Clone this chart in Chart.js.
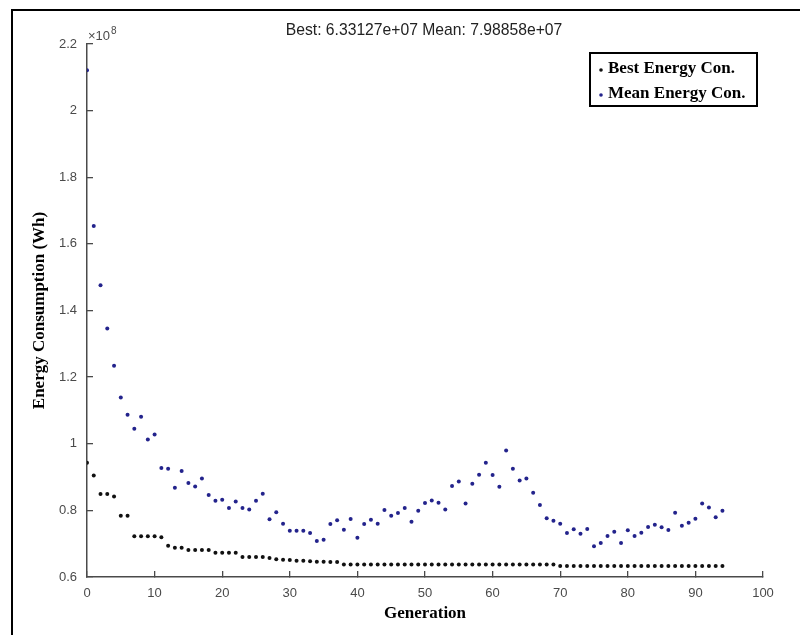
<!DOCTYPE html>
<html>
<head>
<meta charset="utf-8">
<title>Energy Consumption per Generation</title>
<script src="https://cdn.jsdelivr.net/npm/chart.js@4/dist/chart.umd.min.js"></script>
<style>
  html, body { margin: 0; padding: 0; background: #ffffff; }
  #wrap { width: 800px; height: 635px; }
</style>
</head>
<body>
<div id="wrap"><canvas id="chart" width="800" height="635"></canvas></div>
<script>
// Values are in units of 1e8 Wh (axis exponent label "×10^8").
const SCALE = 1e8;

const generations = Array.from({ length: 95 }, (_, i) => i);

const bestEnergy = [
  0.943, 0.905, 0.849, 0.849, 0.842, 0.784, 0.784, 0.722, 0.722, 0.722,
  0.722, 0.719, 0.694, 0.688, 0.688, 0.681, 0.681, 0.681, 0.681, 0.673,
  0.673, 0.673, 0.673, 0.660, 0.660, 0.660, 0.660, 0.657, 0.653, 0.652,
  0.651, 0.649, 0.649, 0.647, 0.646, 0.646, 0.645, 0.645, 0.6375, 0.6375,
  0.6375, 0.6375, 0.6375, 0.6375, 0.6375, 0.6375, 0.6375, 0.6375, 0.6375, 0.6375,
  0.6375, 0.6375, 0.6375, 0.6375, 0.6375, 0.6375, 0.6375, 0.6375, 0.6375, 0.6375,
  0.6375, 0.6375, 0.6375, 0.6375, 0.6375, 0.6375, 0.6375, 0.6375, 0.6375, 0.6375,
  0.633127, 0.633127, 0.633127, 0.633127, 0.633127, 0.633127, 0.633127, 0.633127, 0.633127, 0.633127,
  0.633127, 0.633127, 0.633127, 0.633127, 0.633127, 0.633127, 0.633127, 0.633127, 0.633127, 0.633127,
  0.633127, 0.633127, 0.633127, 0.633127, 0.633127
];

const meanEnergy = [
  2.121, 1.654, 1.476, 1.346, 1.234, 1.139, 1.087, 1.045, 1.081, 1.013,
  1.028, 0.927, 0.925, 0.868, 0.918, 0.882, 0.872, 0.896, 0.846, 0.829,
  0.832, 0.807, 0.827, 0.807, 0.803, 0.829, 0.850, 0.773, 0.794, 0.760,
  0.739, 0.739, 0.739, 0.732, 0.708, 0.712, 0.759, 0.770, 0.742, 0.774,
  0.718, 0.759, 0.772, 0.760, 0.801, 0.784, 0.792, 0.807, 0.766, 0.799,
  0.822, 0.830, 0.823, 0.803, 0.873, 0.887, 0.821, 0.880, 0.907, 0.943,
  0.906, 0.871, 0.980, 0.925, 0.890, 0.896, 0.853, 0.816, 0.776, 0.769,
  0.760, 0.732, 0.743, 0.730, 0.744, 0.692, 0.702, 0.723, 0.736, 0.702,
  0.740, 0.723, 0.733, 0.750, 0.757, 0.749, 0.741, 0.793, 0.754, 0.763,
  0.775, 0.821, 0.809, 0.779, 0.798858
];

const seriesNames = ['Best Energy Con.', 'Mean Energy Con.'];
const seriesColors = ['#111111', '#23238c'];
const titleText = 'Best: 6.33127e+07 Mean: 7.98858e+07';
const xTitle = 'Generation';
const yTitle = 'Energy Consumption (Wh)';

const toPoints = vals => vals.map((v, i) => ({ x: generations[i], y: v * SCALE }));

const AXIS_GRAY = '#4a4a4a';
const TICK_FONT = { family: '"Liberation Sans", Arial, Helvetica, sans-serif', size: 13 };

// Figure frame, title, axis titles, exponent and legend box
const decorations = {
  id: 'decorations',
  afterDraw(chart) {
    const ctx = chart.ctx;
    const area = chart.chartArea;
    ctx.save();

    // outer frame (left and top edges)
    ctx.strokeStyle = '#000000';
    ctx.lineWidth = 2;
    ctx.beginPath();
    ctx.moveTo(12, 635);
    ctx.lineTo(12, 10);
    ctx.lineTo(800, 10);
    ctx.stroke();

    // title
    ctx.fillStyle = '#222222';
    ctx.font = '15.7px "Liberation Sans", Arial, sans-serif';
    ctx.textAlign = 'center';
    ctx.textBaseline = 'middle';
    ctx.fillText(titleText, 424, 31);

    // exponent label
    ctx.fillStyle = AXIS_GRAY;
    ctx.textAlign = 'left';
    ctx.textBaseline = 'alphabetic';
    ctx.font = '13px "Liberation Sans", Arial, sans-serif';
    ctx.fillText('\u00d710', area.left + 1, 40);
    const baseW = ctx.measureText('\u00d710').width;
    ctx.font = '10px "Liberation Sans", Arial, sans-serif';
    ctx.fillText('8', area.left + 2 + baseW, 34);

    // axis titles
    ctx.fillStyle = '#000000';
    ctx.font = 'bold 17px "Liberation Serif", "Times New Roman", serif';
    ctx.textAlign = 'center';
    ctx.textBaseline = 'middle';
    ctx.fillText(xTitle, (area.left + area.right) / 2, 614);
    ctx.save();
    ctx.translate(40, (area.top + area.bottom) / 2);
    ctx.rotate(-Math.PI / 2);
    ctx.fillText(yTitle, 0, 0);
    ctx.restore();

    // legend
    const lx = 590, ly = 53, lw = 167, lh = 53;
    ctx.fillStyle = '#ffffff';
    ctx.fillRect(lx, ly, lw, lh);
    ctx.strokeStyle = '#000000';
    ctx.lineWidth = 2;
    ctx.strokeRect(lx, ly, lw, lh);
    ctx.font = 'bold 17px "Liberation Serif", "Times New Roman", serif';
    ctx.textAlign = 'left';
    ctx.textBaseline = 'middle';
    seriesNames.forEach((name, i) => {
      const cy = ly + 16 + i * 25;
      ctx.fillStyle = seriesColors[i];
      ctx.beginPath();
      ctx.arc(lx + 11, cy + 1, 1.8, 0, Math.PI * 2);
      ctx.fill();
      ctx.fillStyle = '#000000';
      ctx.fillText(name, lx + 18, cy);
    });

    ctx.restore();
  }
};

const chart = new Chart(document.getElementById('chart'), {
  type: 'scatter',
  data: {
    datasets: [
      {
        label: seriesNames[0],
        data: toPoints(bestEnergy),
        backgroundColor: seriesColors[0],
        borderWidth: 0,
        pointRadius: 2,
        pointHoverRadius: 2
      },
      {
        label: seriesNames[1],
        data: toPoints(meanEnergy),
        backgroundColor: seriesColors[1],
        borderWidth: 0,
        pointRadius: 2,
        pointHoverRadius: 2
      }
    ]
  },
  options: {
    responsive: false,
    animation: false,
    devicePixelRatio: 1,
    layout: { padding: { left: 0, right: 37, top: 44, bottom: 0 } },
    plugins: {
      legend: { display: false },
      title: { display: false },
      tooltip: { enabled: false }
    },
    scales: {
      x: {
        type: 'linear',
        min: 0,
        max: 100,
        ticks: {
          stepSize: 10,
          color: AXIS_GRAY,
          font: TICK_FONT,
          padding: 15,
          maxRotation: 0
        },
        grid: { drawOnChartArea: false, drawTicks: true, tickLength: -6, color: AXIS_GRAY, lineWidth: 1.3 },
        border: { display: true, color: AXIS_GRAY, width: 1.5 },
        afterFit(scale) { scale.height = 58; }
      },
      y: {
        type: 'linear',
        min: 0.6 * SCALE,
        max: 2.2 * SCALE,
        ticks: {
          stepSize: 0.2 * SCALE,
          color: AXIS_GRAY,
          font: TICK_FONT,
          padding: 16,
          callback: v => String(Number((v / SCALE).toFixed(1)))
        },
        grid: { drawOnChartArea: false, drawTicks: true, tickLength: -6, color: AXIS_GRAY, lineWidth: 1.3 },
        border: { display: true, color: AXIS_GRAY, width: 1.5 },
        afterFit(scale) { scale.width = 87; }
      }
    }
  },
  plugins: [decorations]
});
</script>
</body>
</html>
